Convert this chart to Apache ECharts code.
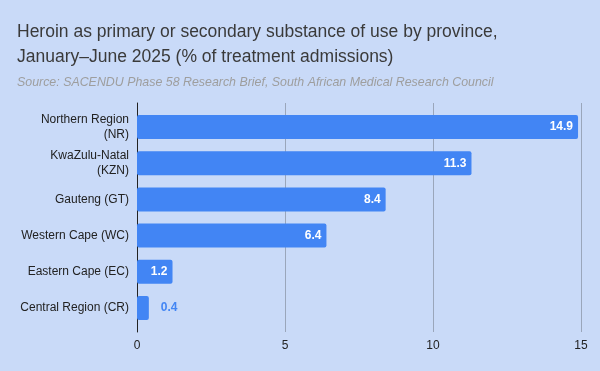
<!DOCTYPE html>
<html>
<head>
<meta charset="utf-8">
<script src="https://cdn.jsdelivr.net/npm/echarts@6/dist/echarts.min.js"></script>
<style>
  html, body { margin: 0; padding: 0; background: #c9daf8; }
  #chart { width: 600px; height: 371px; }
</style>
</head>
<body>
<div id="chart"></div>
<script>
const regions = [
  'Northern Region\n(NR)',
  'KwaZulu-Natal\n(KZN)',
  'Gauteng (GT)',
  'Western Cape (WC)',
  'Eastern Cape (EC)',
  'Central Region (CR)'
]
const shares = [14.9, 11.3, 8.4, 6.4, 1.2, 0.4]
const xTicks = [0, 5, 10, 15]

const chart = echarts.init(document.getElementById('chart'))

const font = 'Liberation Sans, Arial, sans-serif'

chart.setOption({
  backgroundColor: '#c9daf8',
  textStyle: { fontFamily: font },
  title: {
    text: 'Heroin as primary or secondary substance of use by province,\nJanuary\u2013June 2025 (% of treatment admissions)',
    subtext: 'Source: SACENDU Phase 58 Research Brief, South African Medical Research Council',
    left: 12,
    top: 15,
    itemGap: 7,
    textStyle: {
      fontSize: 17.5,
      fontWeight: 'normal',
      color: '#3a3a3a',
      lineHeight: 25,
      fontFamily: font
    },
    subtextStyle: {
      fontSize: 12.4,
      fontStyle: 'italic',
      color: '#9e9e9e',
      fontFamily: font
    }
  },
  grid: [
    // bars
    { left: 137, right: 19, top: 109, bottom: 45 },
    // grid lines and axis line, drawn a bit taller than the bar band
    { left: 137, right: 19, top: 103, bottom: 39 }
  ],
  xAxis: [
    {
      gridIndex: 0,
      type: 'value',
      min: 0,
      max: 15,
      interval: 5,
      show: false
    },
    {
      gridIndex: 1,
      type: 'value',
      min: 0,
      max: 15,
      interval: 5,
      axisLine: { show: false },
      axisTick: { show: false },
      axisLabel: {
        color: '#222',
        fontSize: 12,
        margin: 8,
        formatter: (v) => xTicks.includes(v) ? String(v) : ''
      },
      splitLine: { lineStyle: { color: '#9aa6bb', width: 1 } }
    }
  ],
  yAxis: [
    {
      gridIndex: 0,
      type: 'category',
      data: regions,
      inverse: true,
      axisLine: { show: false },
      axisTick: { show: false },
      axisLabel: {
        color: '#222',
        fontSize: 12,
        lineHeight: 15,
        margin: 8,
        align: 'right'
      }
    },
    {
      gridIndex: 1,
      type: 'value',
      min: 0,
      max: 1,
      axisLine: { show: true, onZero: false, lineStyle: { color: '#222', width: 1 } },
      axisTick: { show: false },
      axisLabel: { show: false },
      splitLine: { show: false }
    }
  ],
  series: [
    {
      type: 'bar',
      xAxisIndex: 0,
      yAxisIndex: 0,
      z: 3,
      data: shares.map((v, i) => ({
        value: v,
        label: i === shares.length - 1
          ? { position: 'right', color: '#4285f4', distance: 12 }
          : { position: 'insideRight', color: '#ffffff' }
      })),
      barWidth: 24,
      itemStyle: { color: '#4285f4', borderRadius: 2 },
      label: {
        show: true,
        fontSize: 12,
        fontWeight: 'bold',
        distance: 5
      }
    }
  ]
})
</script>
</body>
</html>
